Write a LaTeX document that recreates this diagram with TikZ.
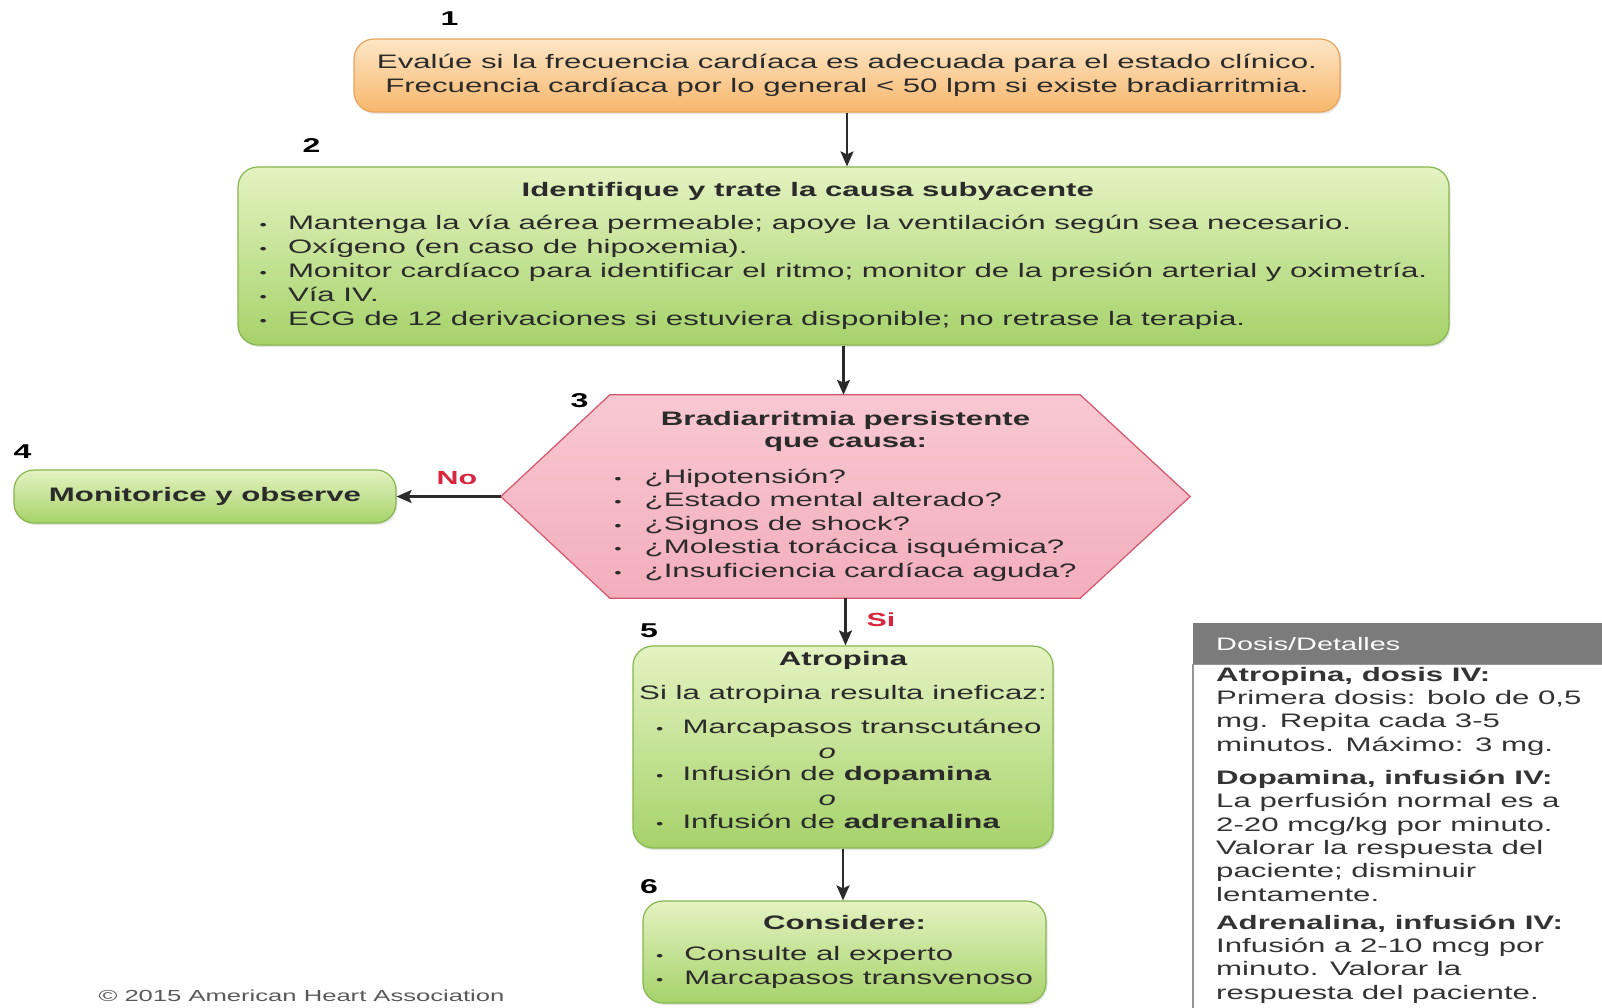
\documentclass[tikz,border=0pt]{standalone}
\usepackage{fontspec}
\setmainfont{Liberation Sans}[FakeStretch=1.6]
\usetikzlibrary{arrows.meta,shadows}

\definecolor{ink}{HTML}{2B2B2B}
\definecolor{orgtop}{HTML}{FDE6C6}
\definecolor{orgbot}{HTML}{F7B76C}
\definecolor{orgline}{HTML}{E8A35A}
\definecolor{grntop}{HTML}{E4F3C2}
\definecolor{grnbot}{HTML}{A6D26A}
\definecolor{grnline}{HTML}{86B64E}
\definecolor{hextop}{HTML}{F8C8D2}
\definecolor{hexbot}{HTML}{F3AEBC}
\definecolor{hexline}{HTML}{D4546C}
\definecolor{yesno}{HTML}{D7263D}
\definecolor{panelgrey}{HTML}{7B7B7B}

\newcommand\flowfont{\fontsize{19.5}{24}\selectfont}
\newcommand\dotmark{{\fontsize{13}{13}\selectfont •}}

\begin{document}
\begin{tikzpicture}[x=1pt,y=-1pt,
  every node/.style={font=\flowfont,text=ink},
  softshadow/.style={drop shadow={shadow xshift=1.5pt,shadow yshift=-2pt,opacity=.2}},
  orangebox/.style={draw=orgline,line width=1.2pt,rounded corners=20pt,top color=orgtop,bottom color=orgbot,softshadow},
  greenbox/.style={draw=grnline,line width=1.2pt,rounded corners=20pt,top color=grntop,bottom color=grnbot,softshadow},
  hexshape/.style={draw=hexline,line width=1.2pt,top color=hextop,bottom color=hexbot},
  stepno/.style={font=\fontsize{20}{24}\selectfont\bfseries,text=black},
  answer/.style={font=\fontsize{19}{24}\selectfont\bfseries,text=yesno},
  arrowline/.style={draw=ink,line width=2.4pt,-{Stealth[length=15pt,width=13pt,inset=3pt]}}]
  \path[use as bounding box,fill=white] (0,0) rectangle (1602,1007);
  \clip (0,0) rectangle (1602,1007);

  \node[orangebox,minimum width=986,minimum height=73,align=center] (b1) at (847,75.5)
    {Evalúe si la frecuencia cardíaca es adecuada para el estado clínico.\\
     Frecuencia cardíaca por lo general < 50 lpm si existe bradiarritmia.};

  \node[greenbox,minimum width=1211,minimum height=178] (b2) at (843.5,256) {%
    \begin{tabular}{@{}l@{\hspace{21pt}}l@{}}
      \multicolumn{2}{@{\hspace{262pt}}l@{}}{\bfseries Identifique y trate la causa subyacente}\\[9pt]
      \dotmark & Mantenga la vía aérea permeable; apoye la ventilación según sea necesario.\\
      \dotmark & Oxígeno (en caso de hipoxemia).\\
      \dotmark & Monitor cardíaco para identificar el ritmo; monitor de la presión arterial y oximetría.\\
      \dotmark & Vía IV.\\
      \dotmark & ECG de 12 derivaciones si estuviera disponible; no retrase la terapia.
    \end{tabular}};

  \node[minimum width=689,minimum height=203,inner sep=0pt] (q3) at (845.5,496.5) {};
  \path[hexshape] (q3.west) -- ([xshift=109pt]q3.north west) -- ([xshift=-110pt]q3.north east)
    -- (q3.east) -- ([xshift=-110pt]q3.south east) -- ([xshift=109pt]q3.south west) -- cycle;
  \node (q3txt) at (q3.center) {%
    \begin{tabular}{@{}l@{\hspace{23pt}}l@{}}
      \multicolumn{2}{@{}c@{}}{\bfseries Bradiarritmia persistente}\\[-2.5pt]
      \multicolumn{2}{@{}c@{}}{\bfseries que causa:}\\[12pt]
      \dotmark & ¿Hipotensión?\\[-0.5pt]
      \dotmark & ¿Estado mental alterado?\\[-0.5pt]
      \dotmark & ¿Signos de shock?\\[-0.5pt]
      \dotmark & ¿Molestia torácica isquémica?\\[-0.5pt]
      \dotmark & ¿Insuficiencia cardíaca aguda?
    \end{tabular}};

  \node[greenbox,minimum width=382,minimum height=53,font=\flowfont\bfseries] (b4) at (205,496.5) {Monitorice y observe};

  \node[greenbox,minimum width=420,minimum height=202,inner sep=0pt] (b5) at (843,747) {%
    \begin{tabular}{@{\hspace{17pt}}l@{\hspace{19pt}}l@{}}
      \multicolumn{2}{@{}c@{}}{\bfseries Atropina}\\[10pt]
      \multicolumn{2}{@{}c@{}}{Si la atropina resulta ineficaz:}\\[10pt]
      \dotmark & Marcapasos transcutáneo\\[1pt]
        & \hspace*{136pt}\textit{o}\\[-2pt]
      \dotmark & Infusión de \textbf{dopamina}\\[1pt]
        & \hspace*{136pt}\textit{o}\\[-1pt]
      \dotmark & Infusión de \textbf{adrenalina}\\[9pt]
    \end{tabular}};

  \node[greenbox,minimum width=403,minimum height=102,inner sep=0pt] (b6) at (844.5,952) {%
    \begin{tabular}{@{}l@{\hspace{21pt}}l@{}}
      \multicolumn{2}{@{}c@{}}{\bfseries Considere:}\\[7pt]
      \dotmark & Consulte al experto\\
      \dotmark & Marcapasos transvenoso
    \end{tabular}};

  \draw[arrowline] (b1.south) -- (b1.south |- b2.north);
  \draw[arrowline] (b2.south) -- (b2.south |- q3.north);
  \draw[arrowline] (q3.west) -- (b4.east);
  \draw[arrowline] (q3.south) -- (q3.south |- b5.north);
  \draw[arrowline] (b5.south) -- (b5.south |- b6.north);

  \node[answer] (no) at (457,478) {No};
  \node[answer] (si) at (881,620) {Si};

  \node[stepno] (n1) at (449.5,18.5) {1};
  \node[stepno] (n2) at (311.5,146) {2};
  \node[stepno] (n3) at (579.5,400.5) {3};
  \node[stepno] (n4) at (22.5,451.5) {4};
  \node[stepno] (n5) at (649,630.5) {5};
  \node[stepno] (n6) at (649,887) {6};

  \node[fill=panelgrey,text=white,anchor=north west,minimum height=41,text width=363,
        inner xsep=23pt,inner ysep=0pt,align=left,font=\fontsize{18}{22}\selectfont] (dh) at (1193,623) {Dosis/Detalles};
  \draw[panelgrey!80,line width=1.5pt,fill=white] (dh.south west) rectangle (1620,1030);
  \node[anchor=north west,inner sep=0pt,align=left,font=\fontsize{19.5}{23.3}\selectfont,text=black!80] (dos) at (1216,667)
    {\textbf{Atropina, dosis IV:}\\
     Primera dosis: bolo de 0,5\\
     mg. Repita cada 3-5\\
     minutos. Máximo: 3 mg.\\[10pt]
     \textbf{Dopamina, infusión IV:}\\
     La perfusión normal es a\\
     2-20 mcg/kg por minuto.\\
     Valorar la respuesta del\\
     paciente; disminuir\\
     lentamente.\\[5pt]
     \textbf{Adrenalina, infusión IV:}\\
     Infusión a 2-10 mcg por\\
     minuto. Valorar la\\
     respuesta del paciente.};

  \node[anchor=base,font=\fontsize{16}{19}\selectfont,text=black!65] (aha) at (301.5,1001) {© 2015 American Heart Association};
\end{tikzpicture}
\end{document}
